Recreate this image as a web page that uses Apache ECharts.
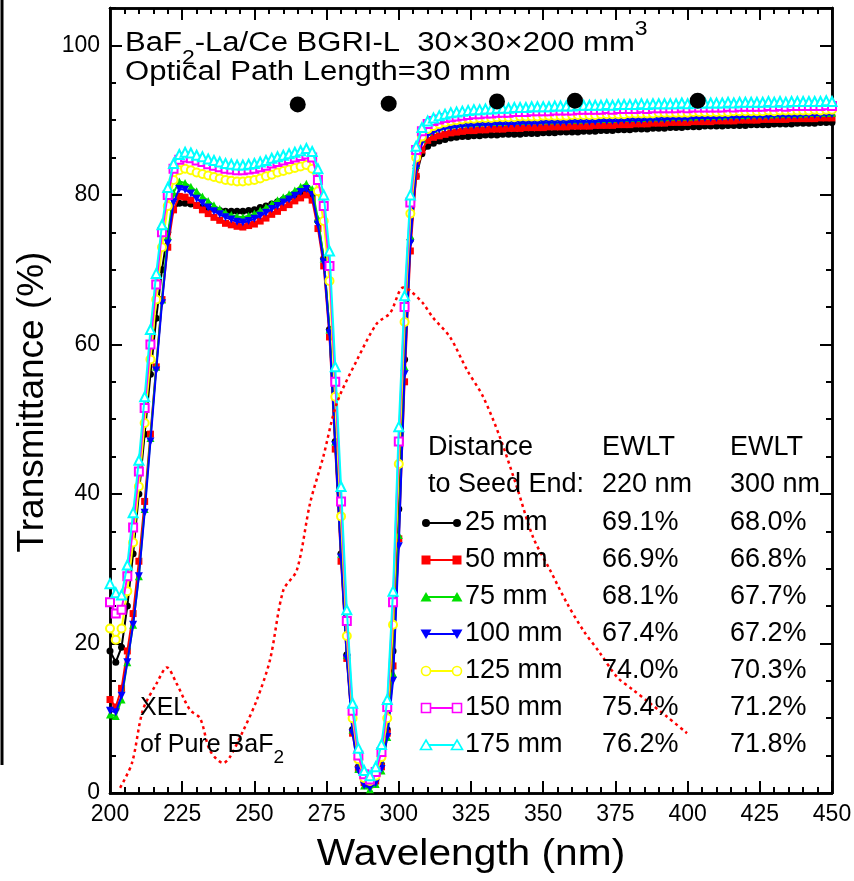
<!DOCTYPE html>
<html>
<head>
<meta charset="utf-8">
<script src="https://cdn.jsdelivr.net/npm/echarts@6/dist/echarts.min.js"></script>
<style>
html,body{margin:0;padding:0;background:#fff}
#chart{width:854px;height:881px}
</style>
</head>
<body>
<div id="chart"></div>
<script>
// wavelength grid (nm) of the transmittance scans
var wavelength = [200,202,204,206,208,210,212,214,216,218,220,222,224,226,
  228,230,232,234,236,238,240,242,244,246,248,250,252,254,256,258,260,262,264,266,268,270,
  272,274,276,278,280,282,284,286,288,290,292,294,296,298,300,302,304,306,308,310,
  312,314,316,318,320,322,324,326,328,330,
  332,334,336,338,340,342,344,346,348,350,352,354,356,358,360,362,364,366,368,370,
  372,374,376,378,380,382,384,386,388,390,392,394,396,398,400,402,404,406,408,410,
  412,414,416,418,420,422,424,426,428,430,432,434,436,438,440,442,444,446,448,450];

// transmittance (%) by distance to seed end
var t25 = [19.0,17.5,19.5,25.0,32.0,40.0,48.0,56.0,63.5,70.0,75.0,78.0,78.9,78.9,
  78.8,78.6,78.4,78.2,78.1,77.9,77.8,77.8,77.8,77.8,77.9,78.0,78.3,78.5,78.8,79.1,79.4,79.7,80.0,80.3,80.6,80.0,
  76.5,71.5,62.0,47.0,32.0,18.5,8.5,3.5,1.5,1.2,1.8,3.8,8.5,19.0,38.0,58.0,74.0,82.5,85.5,86.5,
  86.9,87.2,87.4,87.6,87.7,87.8,87.8,87.9,87.9,88.0,
  88.0,88.0,88.1,88.1,88.1,88.1,88.2,88.2,88.2,88.3,88.3,88.3,88.4,88.4,88.4,88.4,88.5,88.5,88.5,88.6,
  88.6,88.6,88.7,88.7,88.7,88.8,88.8,88.8,88.9,88.9,88.9,89.0,89.0,89.0,89.1,89.1,89.1,89.2,89.2,89.2,
  89.2,89.3,89.3,89.3,89.3,89.4,89.4,89.4,89.4,89.5,89.5,89.5,89.5,89.6,89.6,89.6,89.6,89.7,89.7,89.7];
var t50 = [12.5,11.5,14.0,19.0,24.0,31.0,39.0,48.0,57.0,66.0,73.0,78.0,79.8,79.7,
  79.3,78.6,78.0,77.5,77.0,76.6,76.2,76.0,75.8,75.7,75.9,76.1,76.5,76.9,77.4,77.8,78.3,78.7,79.2,79.6,80.0,79.3,
  75.5,70.5,61.0,46.0,31.0,18.0,8.0,3.2,1.4,1.1,1.6,3.5,8.0,17.0,34.0,55.0,72.5,82.5,86.0,87.3,
  87.7,87.9,88.1,88.3,88.4,88.5,88.6,88.6,88.7,88.7,
  88.8,88.8,88.8,88.9,88.9,88.9,89.0,89.0,89.0,89.0,89.1,89.1,89.1,89.1,89.2,89.2,89.2,89.2,89.3,89.3,
  89.3,89.3,89.4,89.4,89.4,89.5,89.5,89.5,89.6,89.6,89.6,89.7,89.7,89.7,89.7,89.8,89.8,89.8,89.8,89.9,
  89.9,89.9,89.9,90.0,90.0,90.0,90.0,90.1,90.1,90.1,90.1,90.1,90.2,90.2,90.2,90.2,90.2,90.3,90.3,90.3];
var t75 = [10.5,10.3,12.5,17.5,22.5,29.0,38.0,47.5,57.0,66.0,74.5,80.3,81.8,81.6,
  81.1,80.5,79.8,79.2,78.6,78.1,77.6,77.3,77.1,77.0,77.2,77.5,77.9,78.3,78.8,79.3,79.7,80.1,80.6,81.1,81.5,80.8,
  76.8,71.5,62.0,47.0,32.0,18.5,8.5,3.2,1.0,0.5,1.2,3.0,7.5,16.0,34.5,57.0,74.5,84.0,87.5,88.4,
  88.8,89.1,89.3,89.4,89.5,89.6,89.6,89.7,89.7,89.8,
  89.8,89.8,89.8,89.9,89.9,89.9,89.9,90.0,90.0,90.0,90.0,90.0,90.1,90.1,90.1,90.1,90.1,90.2,90.2,90.2,
  90.2,90.2,90.3,90.3,90.3,90.3,90.3,90.4,90.4,90.4,90.4,90.5,90.5,90.5,90.5,90.5,90.6,90.6,90.6,90.6,
  90.6,90.7,90.7,90.7,90.7,90.8,90.8,90.8,90.8,90.8,90.9,90.9,90.9,90.9,90.9,91.0,91.0,91.0,91.0,91.0];
var t100 = [11.0,10.8,13.0,17.5,22.5,29.0,37.5,47.0,56.5,65.5,73.5,79.0,80.8,80.7,
  80.2,79.5,78.9,78.3,77.8,77.4,77.0,76.7,76.4,76.3,76.5,76.8,77.2,77.6,78.1,78.5,79.0,79.4,79.9,80.4,80.8,80.0,
  76.0,71.0,61.5,46.5,31.5,18.0,8.0,3.0,1.0,0.7,1.3,3.2,7.5,15.0,33.0,56.0,73.5,83.5,87.0,88.0,
  88.4,88.7,88.9,89.0,89.1,89.2,89.3,89.3,89.4,89.4,
  89.4,89.5,89.5,89.5,89.5,89.6,89.6,89.6,89.6,89.7,89.7,89.7,89.7,89.7,89.8,89.8,89.8,89.8,89.8,89.9,
  89.9,89.9,89.9,90.0,90.0,90.0,90.0,90.1,90.1,90.1,90.1,90.2,90.2,90.2,90.2,90.3,90.3,90.3,90.3,90.3,
  90.4,90.4,90.4,90.4,90.5,90.5,90.5,90.5,90.5,90.6,90.6,90.6,90.6,90.6,90.7,90.7,90.7,90.7,90.8,90.8];
var t125 = [22.0,20.5,22.0,27.0,33.5,41.0,49.5,58.0,66.0,73.0,78.5,82.0,83.3,83.5,
  83.3,83.0,82.8,82.6,82.4,82.2,82.0,81.9,81.8,81.8,81.9,82.0,82.2,82.5,82.7,83.0,83.2,83.4,83.6,83.8,84.0,83.5,
  80.5,76.5,68.5,53.0,37.0,21.0,10.0,4.5,2.0,1.6,2.3,4.8,10.0,22.5,44.0,63.0,77.5,85.0,87.8,88.8,
  89.2,89.5,89.7,89.9,90.0,90.1,90.2,90.2,90.3,90.3,
  90.3,90.4,90.4,90.4,90.4,90.5,90.5,90.5,90.5,90.6,90.6,90.6,90.6,90.6,90.7,90.7,90.7,90.7,90.7,90.8,
  90.8,90.8,90.8,90.8,90.9,90.9,90.9,90.9,90.9,91.0,91.0,91.0,91.0,91.0,91.0,91.1,91.1,91.1,91.1,91.1,
  91.1,91.1,91.2,91.2,91.2,91.2,91.2,91.2,91.3,91.2,91.3,91.3,91.3,91.3,91.3,91.3,91.4,91.3,91.4,91.4];
var t150 = [25.5,24.0,24.5,29.0,35.5,43.0,51.5,60.0,68.0,75.0,80.0,83.5,84.7,85.0,
  84.9,84.6,84.4,84.1,83.9,83.7,83.5,83.4,83.3,83.3,83.4,83.5,83.7,83.9,84.2,84.4,84.6,84.8,85.0,85.2,85.4,85.0,
  82.0,78.5,70.5,55.0,39.0,23.0,11.0,5.0,2.5,1.8,2.8,5.5,11.5,25.5,47.0,65.0,79.0,86.0,88.5,89.5,
  89.9,90.1,90.3,90.4,90.5,90.6,90.7,90.8,90.8,90.9,
  90.9,91.0,91.0,91.0,91.1,91.1,91.1,91.2,91.2,91.2,91.2,91.3,91.3,91.3,91.3,91.4,91.4,91.4,91.4,91.4,
  91.5,91.4,91.5,91.5,91.5,91.5,91.6,91.5,91.6,91.6,91.6,91.6,91.6,91.7,91.6,91.7,91.7,91.7,91.7,91.7,
  91.7,91.8,91.7,91.8,91.8,91.8,91.8,91.8,91.9,91.8,91.9,91.8,91.9,91.9,91.9,91.9,91.9,91.9,92.0,91.9];
var t175 = [28.0,26.8,26.5,30.5,37.5,44.5,53.0,62.0,69.5,76.0,81.0,84.2,85.4,85.7,
  85.6,85.3,85.1,84.8,84.6,84.4,84.2,84.1,84.0,84.0,84.1,84.2,84.4,84.6,84.9,85.1,85.3,85.5,85.7,85.9,86.2,85.8,
  83.5,80.0,72.5,57.0,41.0,24.5,12.0,6.0,3.0,2.3,3.5,6.5,12.5,27.0,49.0,66.5,80.0,86.5,89.0,89.9,
  90.3,90.6,90.8,91.0,91.1,91.2,91.3,91.4,91.4,91.5,
  91.5,91.6,91.6,91.6,91.7,91.7,91.7,91.8,91.8,91.8,91.8,91.9,91.9,91.9,91.9,92.0,92.0,92.0,92.0,92.0,
  92.1,92.0,92.1,92.1,92.1,92.1,92.2,92.1,92.2,92.2,92.2,92.2,92.2,92.3,92.2,92.3,92.3,92.3,92.3,92.3,
  92.3,92.4,92.3,92.4,92.4,92.4,92.4,92.4,92.5,92.4,92.5,92.4,92.5,92.5,92.5,92.5,92.5,92.5,92.6,92.5];

// XEL of pure BaF2 (arbitrary scale, plotted on the % axis)
var xelWl = [203.5,207.6,211.4,216.2,219.7,223.0,227.7,231.2,234.6,239.2,241.5,246.2,250.8,255.4,260.0,264.7,
  269.3,273.8,278.5,285.5,292.4,297.0,301.5,303.9,308.4,311.8,317.7,323.6,329.2,335.0,340.9,346.5,352.4,
  358.2,363.8,369.7,375.6,381.1,387.0,392.9,399.8];
var xelVal = [0.7,4.0,11.1,14.7,16.8,14.7,11.1,10.0,5.7,4.0,4.8,8.4,12.4,17.8,27.1,29.8,
  38.8,44.9,52.1,57.9,62.8,64.2,67.6,67.2,65.5,63.6,61.0,56.6,53.0,47.6,40.9,34.2,29.8,
  25.4,21.8,18.7,15.5,13.8,12.0,10.2,8.0];

// theoretical limit points
var dotWl = [265, 296.5, 334, 361, 403.5];
var dotVal = [92.1, 92.2, 92.5, 92.6, 92.6];

var seriesNames = ['25 mm', '50 mm', '75 mm', '100 mm', '125 mm', '150 mm', '175 mm'];
var ewlt220 = ['69.1%', '66.9%', '68.1%', '67.4%', '74.0%', '75.4%', '76.2%'];
var ewlt300 = ['68.0%', '66.8%', '67.7%', '67.2%', '70.3%', '71.2%', '71.8%'];
var yTicks = [0, 20, 40, 60, 80, 100];

var transData = [t25, t50, t75, t100, t125, t150, t175];
transData.forEach(function (d, i) {
  if (d.length !== wavelength.length) throw new Error(seriesNames[i] + ' length ' + d.length);
});

var FONT = '"Liberation Sans", Arial, Helvetica, sans-serif';
var colors = ['#000000', '#ff0000', '#00e000', '#0000ff', '#ffff00', '#ff00ff', '#00ffff'];
var symbols = ['circle', 'rect', 'triangle', 'triangle', 'emptyCircle', 'emptyRect', 'emptyTriangle'];
var symRot = [0, 0, 0, 180, 0, 0, 0];
var symSize = [7, 7, 8, 8, 8, 8, 9];

function pairs(xs, ys) {
  return xs.map(function (x, i) { return [x, ys[i]]; });
}

var series = transData.map(function (d, i) {
  var hollow = symbols[i].indexOf('empty') === 0;
  return {
    name: seriesNames[i],
    type: 'line',
    data: pairs(wavelength, d),
    symbol: symbols[i],
    symbolSize: symSize[i],
    symbolRotate: symRot[i],
    showAllSymbol: true,
    lineStyle: {color: colors[i], width: 2},
    itemStyle: {color: colors[i], borderColor: colors[i], borderWidth: hollow ? 1.5 : 0, opacity: 1},
    emphasis: {disabled: true},
    z: 2 + i
  };
});
series.push({
  name: 'XEL',
  type: 'line',
  data: pairs(xelWl, xelVal),
  symbol: 'none',
  smooth: 0.3,
  lineStyle: {color: '#ff0000', width: 2.5, type: [3, 3.5]},
  emphasis: {disabled: true},
  z: 12
});
series.push({
  name: 'limit',
  type: 'scatter',
  data: pairs(dotWl, dotVal),
  symbol: 'circle',
  symbolSize: 16,
  itemStyle: {color: '#000', opacity: 1},
  emphasis: {disabled: true},
  z: 13
});

// frame axes: major ticks with labels + minor ticks, mirrored on top/right
function xAx(pos, interval, len, labels) {
  return {
    type: 'value', min: 200, max: 450, interval: interval, position: pos,
    axisLine: {show: true, onZero: false, lineStyle: {color: '#000', width: 2.5}},
    axisTick: {show: true, inside: true, length: len, lineStyle: {color: '#000', width: 2}},
    axisLabel: {show: labels, fontSize: 23, color: '#000', fontFamily: FONT, margin: 10},
    splitLine: {show: false}
  };
}
function yAx(pos, interval, len, labels) {
  return {
    type: 'value', min: 0, max: 105, interval: interval, position: pos,
    axisLine: {show: true, onZero: false, lineStyle: {color: '#000', width: 2.5}},
    axisTick: {show: true, inside: true, length: len, lineStyle: {color: '#000', width: 2}},
    axisLabel: {
      show: labels, fontSize: 23, color: '#000', fontFamily: FONT, margin: 10,
      showMaxLabel: false,
      formatter: function (v) { return yTicks.indexOf(v) >= 0 ? String(v) : ''; }
    },
    splitLine: {show: false}
  };
}

// legend table
var graphics = [];
function txt(x, y, s, size, align) {
  return {type: 'text', x: x, y: y, z: 100,
    style: {text: s, fill: '#000', fontSize: size || 27, fontFamily: FONT,
      align: align || 'left', verticalAlign: 'middle'}};
}
function marker(kind, rot, cx, cy, color) {
  var hollow = kind.indexOf('empty') === 0;
  var base = hollow ? kind.slice(5).toLowerCase() : kind;
  var st = hollow ? {fill: '#fff', stroke: color, lineWidth: 1.6} : {fill: color};
  if (base === 'circle') return {type: 'circle', z: 101, shape: {cx: cx, cy: cy, r: hollow ? 4.5 : 4}, style: st};
  if (base === 'rect') return {type: 'rect', z: 101, shape: {x: cx - 4.5, y: cy - 4.5, width: 9, height: 9}, style: st};
  var s = rot ? -1 : 1;
  return {type: 'polygon', z: 101,
    shape: {points: [[cx, cy - 5 * s], [cx + 5.5, cy + 4.5 * s], [cx - 5.5, cy + 4.5 * s]]}, style: st};
}
graphics.push(txt(428, 448, 'Distance'));
graphics.push(txt(428, 485, 'to Seed End:'));
graphics.push(txt(602, 448, 'EWLT'));
graphics.push(txt(730, 448, 'EWLT'));
graphics.push(txt(602, 485, '220 nm'));
graphics.push(txt(730, 485, '300 nm'));
seriesNames.forEach(function (nm, i) {
  var y = 523 + i * 37;
  graphics.push({type: 'line', z: 100, shape: {x1: 426, y1: y, x2: 457, y2: y},
    style: {stroke: colors[i], lineWidth: 2}});
  graphics.push(marker(symbols[i], symRot[i], 426, y, colors[i]));
  graphics.push(marker(symbols[i], symRot[i], 457, y, colors[i]));
  graphics.push(txt(465, y, nm));
  graphics.push(txt(602, y, ewlt220[i]));
  graphics.push(txt(730, y, ewlt300[i]));
});

// sample description
var rich = {
  n: {fontSize: 27, fontFamily: FONT, fill: '#000', lineHeight: 49, verticalAlign: 'middle'},
  sub: {fontSize: 20, fontFamily: FONT, fill: '#000', lineHeight: 20, verticalAlign: 'bottom'},
  sup: {fontSize: 20, fontFamily: FONT, fill: '#000', lineHeight: 38, verticalAlign: 'top'}
};
graphics.push({type: 'text', x: 125, y: 44, z: 100, scaleX: 1.15,
  style: {text: '{n|BaF}{sub|2}{n|-La/Ce BGRI-L  30×30×200 mm}{sup|3}', rich: rich,
    verticalAlign: 'middle', align: 'left'}});
graphics.push({type: 'text', x: 125, y: 73, z: 100, scaleX: 1.15,
  style: {text: 'Optical Path Length=30 mm', fill: '#000', fontSize: 27, fontFamily: FONT,
    verticalAlign: 'middle', align: 'left'}});
var richXel = {
  n: {fontSize: 25, fontFamily: FONT, fill: '#000', lineHeight: 45, verticalAlign: 'middle'},
  sub: {fontSize: 19, fontFamily: FONT, fill: '#000', lineHeight: 19, verticalAlign: 'bottom'}
};
graphics.push(txt(140, 708, 'XEL', 25));
graphics.push({type: 'text', x: 140, y: 745, z: 100,
  style: {text: '{n|of Pure BaF}{sub|2}', rich: richXel, verticalAlign: 'middle', align: 'left'}});

// axis titles
graphics.push({type: 'text', x: 33, y: 402, rotation: Math.PI / 2, z: 100,
  style: {text: 'Transmittance (%)', fill: '#000', fontSize: 37, fontFamily: FONT,
    align: 'center', verticalAlign: 'middle'}});
graphics.push({type: 'text', x: 471, y: 855, z: 100, scaleX: 1.1,
  style: {text: 'Wavelength (nm)', fill: '#000', fontSize: 37, fontFamily: FONT,
    align: 'center', verticalAlign: 'middle'}});

// edge of the neighbouring panel, cut off in the original figure
graphics.push({type: 'line', z: 100, shape: {x1: 2, y1: 0, x2: 2, y2: 765},
  style: {stroke: '#000', lineWidth: 3}});

var chart = echarts.init(document.getElementById('chart'));
var option = {
  animation: false,
  backgroundColor: '#fff',
  grid: {left: 110, right: 22, top: 8, bottom: 88, containLabel: false, outerBoundsMode: 'none'},
  xAxis: [
    xAx('bottom', 25, 12, true),
    xAx('bottom', 5, 6, false),
    xAx('top', 25, 12, false),
    xAx('top', 5, 6, false)
  ],
  yAxis: [
    yAx('left', 20, 12, true),
    yAx('left', 5, 6, false),
    yAx('right', 20, 12, false),
    yAx('right', 5, 6, false)
  ],
  series: series,
  graphic: {elements: graphics}
};
chart.setOption(option);
</script>
</body>
</html>
